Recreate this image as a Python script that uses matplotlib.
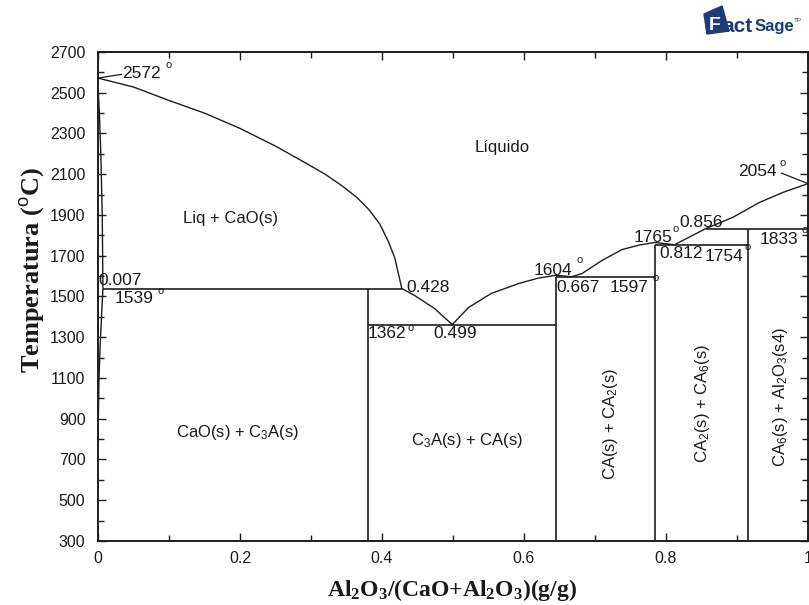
import matplotlib
matplotlib.use("Agg")
from matplotlib import pyplot as plt
from matplotlib.ticker import FixedLocator, MultipleLocator
from matplotlib.patches import Polygon

plt.rcParams['font.family'] = ['Liberation Sans', 'DejaVu Sans']
plt.rcParams['mathtext.fontset'] = 'custom'
plt.rcParams['mathtext.rm'] = 'Liberation Sans'
plt.rcParams['mathtext.it'] = 'Liberation Sans'
plt.rcParams['mathtext.bf'] = 'Liberation Serif:bold'

# liquidus branches (x = Al2O3 mass fraction, T in C)
liq_cao_x = [0, 0.05, 0.10, 0.15, 0.20, 0.25, 0.29, 0.32, 0.345, 0.365, 0.382, 0.397, 0.409, 0.418, 0.428]
liq_cao_t = [2572, 2528, 2462, 2400, 2325, 2238, 2160, 2100, 2040, 1985, 1925, 1855, 1770, 1690, 1539]
liq_c3a_x = [0.428, 0.446, 0.474, 0.499]
liq_c3a_t = [1539, 1505, 1441, 1362]
liq_ca_x = [0.499, 0.522, 0.554, 0.593, 0.62, 0.645, 0.667]
liq_ca_t = [1362, 1446, 1515, 1564, 1590, 1604, 1597]
liq_ca2_x = [0.667, 0.682, 0.71, 0.738, 0.762, 0.784, 0.812]
liq_ca2_t = [1597, 1613, 1677, 1730, 1752, 1765, 1754]
liq_ca6_x = [0.812, 0.856, 0.894, 0.932, 0.965, 1.0]
liq_ca6_t = [1754, 1833, 1888, 1962, 2011, 2054]

# CaO solid solution boundary
ss_x = [0, 0.0005, 0.002, 0.004, 0.006, 0.007, 0.005, 0.003, 0.0015, 0.0005, 0]
ss_t = [2572, 2500, 2400, 2200, 1900, 1539, 1400, 1250, 1100, 900, 800]

# invariant lines: start x, end x, temperature
inv_x0 = [0.007, 0.38, 0.645, 0.784, 0.856]
inv_x1 = [0.428, 0.645, 0.784, 0.916, 1.0]
inv_t = [1539, 1362, 1597, 1754, 1833]

# compounds C3A, CA, CA2, CA6 and their upper limits
comp_x = [0.38, 0.645, 0.784, 0.916]
comp_t = [1539, 1597, 1754, 1833]

# point labels and their degree marks
pt_text = ['2572', '0.007', '1539', '0.428', '1362', '0.499', '1604', '0.667',
           '1597', '1765', '0.856', '0.812', '1754', '1833', '2054']
pt_x = [0.034, 0.0, 0.024, 0.434, 0.380, 0.472, 0.614, 0.646,
        0.721, 0.755, 0.819, 0.791, 0.854, 0.932, 0.902]
pt_t = [2594, 1579, 1490, 1544, 1318, 1318, 1628, 1544,
        1544, 1790, 1864, 1711, 1697, 1780, 2112]
deg_x = [0.099, 0.088, 0.441, 0.678, 0.785, 0.813, 0.915, 0.996, 0.965]
deg_t = [2636, 1529, 1347, 1677, 1593, 1830, 1741, 1824, 2154]

# phase field labels
field_text = ['Líquido', 'Liq + CaO(s)', 'CaO(s) + C$_3$A(s)', 'C$_3$A(s) + CA(s)',
              'CA(s) + CA$_2$(s)', 'CA$_2$(s) + CA$_6$(s)', 'CA$_6$(s) + Al$_2$O$_3$(s4)']
field_x = [0.569, 0.187, 0.197, 0.52, 0.722, 0.851, 0.961]
field_t = [2233, 1883, 831, 793, 875, 974, 1008]
field_rot = [0, 0, 0, 0, 90, 90, 90]

y_ticks = [300, 500, 700, 900, 1100, 1300, 1500, 1700, 1900, 2100, 2300, 2500, 2700]
x_ticks = [0, 0.2, 0.4, 0.6, 0.8, 1.0]
x_ticklabels = ['0', '0.2', '0.4', '0.6', '0.8', '1']

fig = plt.figure(figsize=(8.09, 6.05), dpi=100)
ax = fig.add_axes([0.1211, 0.1058, 0.8776, 0.8083])

lc = '#1e1e1e'
for xs, ts in [(liq_cao_x, liq_cao_t), (liq_c3a_x, liq_c3a_t), (liq_ca_x, liq_ca_t),
               (liq_ca2_x, liq_ca2_t), (liq_ca6_x, liq_ca6_t), (ss_x, ss_t)]:
    ax.plot(xs, ts, color=lc, lw=1.0)
ax.hlines(inv_t, inv_x0, inv_x1, color=lc, lw=1.2)
ax.vlines(comp_x, 300, comp_t, color=lc, lw=1.2)

# leader lines for the melting points
ax.plot([0, 0.033], [2572, 2590], color=lc, lw=0.9)
ax.plot([1.0, 0.963], [2054, 2105], color=lc, lw=0.9)

tc = '#1a1a1a'
for s, x, t in zip(pt_text, pt_x, pt_t):
    ax.text(x, t, s, fontsize=12.5, color=tc, ha='left', va='center')
for x, t in zip(deg_x, deg_t):
    ax.text(x, t, 'o', fontsize=8, color=tc, ha='center', va='center')
for s, x, t, r in zip(field_text, field_x, field_t, field_rot):
    ax.text(x, t, s, fontsize=12, color=tc, ha='center', va='center', rotation=r)

ax.set_xlim(0, 1)
ax.set_ylim(300, 2700)
ax.set_xticks(x_ticks)
ax.set_xticklabels(x_ticklabels)
ax.xaxis.set_minor_locator(MultipleLocator(0.1))
ax.yaxis.set_major_locator(FixedLocator(y_ticks))
ax.yaxis.set_minor_locator(MultipleLocator(100))
ax.tick_params(which='both', direction='in', top=True, right=True, color=lc)
ax.tick_params(which='major', length=6, width=1.0, labelsize=11.5, labelcolor=tc)
ax.tick_params(which='minor', length=4, width=1.0)
ax.tick_params(axis='y', pad=9)
ax.tick_params(axis='x', pad=7)
for sp in ax.spines.values():
    sp.set_linewidth(1.4)
    sp.set_color(lc)

fig.text(452 / 809, 1 - 590 / 605, r'$\mathbf{Al_2O_3/(CaO{+}Al_2O_3)(g/g)}$',
         fontsize=17, color=tc, ha='center', va='center')
fig.text(33 / 809, 1 - 270 / 605, 'Temperatura ($^{o}$C)', fontsize=19,
         family='Liberation Serif', fontweight='bold', color=tc,
         ha='center', va='center', rotation=90)

# FactSage logo
logo_c = '#1c3c78'
fig.patches.append(Polygon([[704 / 809, 1 - 14 / 605], [722 / 809, 1 - 6 / 605],
                            [729 / 809, 1 - 31 / 605], [707 / 809, 1 - 34 / 605]],
                           closed=True, transform=fig.transFigure, color=logo_c))
fig.text(709 / 809, 1 - 26 / 605, 'F', fontsize=14, fontweight='bold', color='white',
         va='center', ha='left')
fig.text(722 / 809, 1 - 27 / 605, 'act', fontsize=15, fontweight='bold', color=logo_c,
         va='center', ha='left')
fig.text(755 / 809, 1 - 27 / 605, 'Sage', fontsize=12, fontweight='bold', color=logo_c,
         va='center', ha='left')
fig.text(794 / 809, 1 - 20 / 605, 'TP', fontsize=4.5, color=logo_c, va='center', ha='left')

fig.savefig('out.png', dpi=100)
